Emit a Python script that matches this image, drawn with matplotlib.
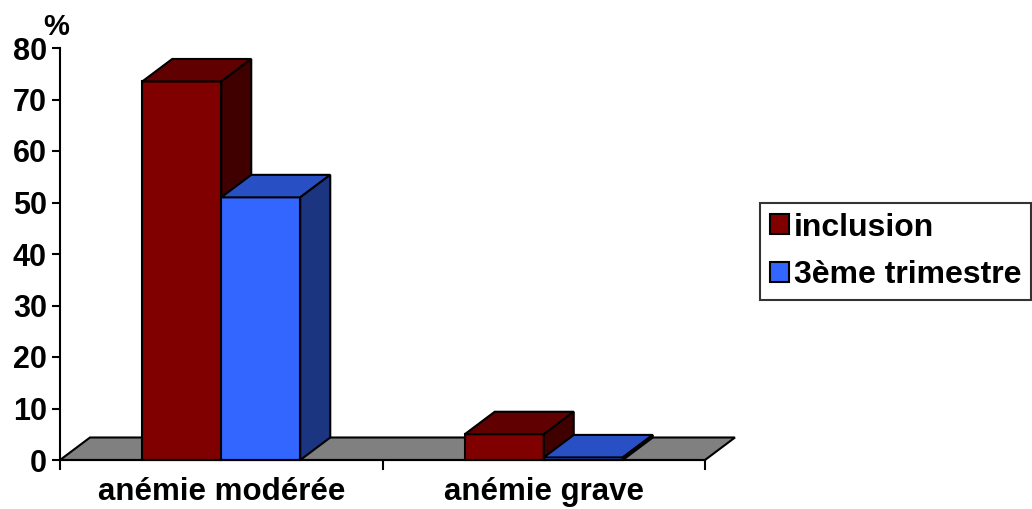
import matplotlib.pyplot as plt
from matplotlib.patches import Polygon, Patch
import matplotlib

matplotlib.use('Agg')
plt.rcParams['font.family'] = ['Liberation Sans', 'DejaVu Sans']
plt.rcParams['font.weight'] = 'bold'

categories = ['anémie modérée', 'anémie grave']
series = ['inclusion', '3ème trimestre']
inclusion = [73.5, 5.0]
trimestre3 = [51.0, 0.5]
yticks = [0, 10, 20, 30, 40, 50, 60, 70, 80]

# front / top / side shades for each series
shades = {
    'inclusion': ('#800000', '#600000', '#400000'),
    '3ème trimestre': ('#3366ff', '#2850c4', '#1c3580'),
}

fig = plt.figure(figsize=(10.32, 5.09), dpi=100)
ax = fig.add_axes([60 / 1032, 49 / 509, 645 / 1032, 412 / 509])
ax.set_xlim(0, 2)
ax.set_ylim(0, 80)

# depth of the fake 3d boxes, in data units
dx, dy = 0.093, 4.37
lw = 1.5

def box(x0, w, h, colors, z):
    front, top, side = colors
    ax.add_patch(Polygon([(x0, 0), (x0 + w, 0), (x0 + w, h), (x0, h)],
                         closed=True, fc=front, ec='black', lw=lw, zorder=z, clip_on=False))
    ax.add_patch(Polygon([(x0, h), (x0 + w, h), (x0 + w + dx, h + dy), (x0 + dx, h + dy)],
                         closed=True, fc=top, ec='black', lw=lw, zorder=z, clip_on=False))
    ax.add_patch(Polygon([(x0 + w, 0), (x0 + w + dx, dy), (x0 + w + dx, h + dy), (x0 + w, h)],
                         closed=True, fc=side, ec='black', lw=lw, zorder=z, clip_on=False))

# floor
ax.add_patch(Polygon([(0, 0), (2, 0), (2 + dx, dy), (dx, dy)], closed=True,
                     fc='#808080', ec='black', lw=lw, zorder=1, clip_on=False))

bw = 0.245
for i in range(len(categories)):
    left = i + 0.5 - bw
    box(left, bw, inclusion[i], shades['inclusion'], 2 + i * 2)
    box(left + bw, bw, trimestre3[i], shades['3ème trimestre'], 3 + i * 2)

for s in ['top', 'right']:
    ax.spines[s].set_visible(False)
ax.spines['left'].set_linewidth(lw)
ax.spines['bottom'].set_linewidth(lw)
ax.spines['bottom'].set_zorder(10)
ax.patch.set_alpha(0)

ax.set_yticks(yticks)
ax.set_yticklabels([str(t) for t in yticks], fontsize=22, fontweight='bold')
ax.tick_params(axis='y', length=6, width=lw, pad=3.5)
ax.set_xticks([0, 1, 2])
ax.set_xticklabels([])
ax.tick_params(axis='x', length=7, width=lw, direction='out')

for i, c in enumerate(categories):
    ax.text(i + 0.5, -40 / 5.15, c, ha='center', va='baseline', fontsize=22.5,
            fontweight='bold', clip_on=False)

fig.text(56 / 1032, 1 - 27 / 509, '%', ha='center', va='center', fontsize=21, fontweight='bold')

handles = [Patch(fc=shades[s][0], ec='black', lw=lw) for s in series]
leg = fig.legend(handles, series, loc='upper left', bbox_to_anchor=(760 / 1032, 1 - 203 / 509),
                 prop={'size': 23, 'weight': 'bold'}, frameon=True, fancybox=False,
                 handlelength=0.6, handleheight=0.6, handletextpad=0.15,
                 borderpad=0.3, labelspacing=0.55, borderaxespad=0)
leg.get_frame().set_edgecolor('black')
leg.get_frame().set_linewidth(lw)

fig.savefig('out.png', dpi=100)
